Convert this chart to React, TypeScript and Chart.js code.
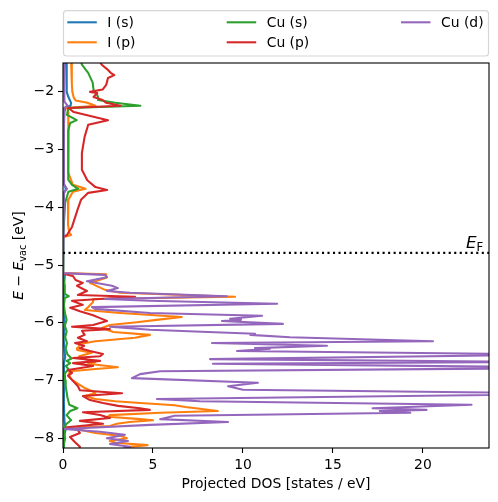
import React, { useEffect, useRef } from "react";
import { Chart, registerables } from "chart.js";

Chart.register(...registerables);

// Each series: [energy E - E_vac (eV), projected DOS (states / eV)]
const seriesLabels = ["I (s)", "I (p)", "Cu (s)", "Cu (p)", "Cu (d)"];
const seriesColors = ["#1f77b4", "#ff7f0e", "#2ca02c", "#d62728", "#9467bd"];

const iS: [number, number][] = [
  [-1.45, 0.17], [-1.62, 0.2], [-1.85, 0.2], [-2.0, 0.22], [-2.09, 0.3], [-2.19, 0.45], [-2.24, 0.42],
  [-2.28, 0.12], [-2.35, 0.08], [-2.6, 0.05], [-3.1, 0.04], [-3.6, 0.06], [-3.68, 0.16], [-3.75, 0.06],
  [-4.1, 0.03], [-4.5, 0.01], [-4.53, 0], [-5.14, 0], [-5.17, 0.1], [-5.4, 0.05], [-5.7, 0.04],
  [-6.0, 0.08], [-6.3, 0.04], [-6.6, 0.12], [-6.7, 0.05], [-7.0, 0.06], [-7.4, 0.05], [-7.7, 0.08],
  [-7.85, 0.14], [-8.0, 0.05], [-8.25, 0.04],
];

const iP: [number, number][] = [
  [-1.45, 0.45], [-1.62, 0.48], [-1.85, 0.5], [-2.0, 0.52], [-2.1, 0.6], [-2.15, 0.7], [-2.19, 1.35],
  [-2.24, 1.8], [-2.28, 0.22], [-2.35, 0.3], [-2.6, 0.3], [-3.0, 0.28], [-3.4, 0.3], [-3.61, 0.55],
  [-3.68, 1.25], [-3.73, 0.55], [-3.87, 0.3], [-4.3, 0.28], [-4.44, 0.35], [-4.48, 0.45], [-4.52, 0],
  [-5.14, 0], [-5.16, 2.4], [-5.22, 2.4], [-5.31, 1.5], [-5.43, 2.33], [-5.48, 3.17], [-5.55, 9.56],
  [-5.59, 1.67], [-5.64, 1.67], [-5.73, 1.39], [-5.78, 1.22], [-5.83, 3.17], [-5.9, 6.6], [-5.95, 5.2],
  [-5.99, 4.1], [-6.04, 2.6], [-6.09, 2.17], [-6.16, 2.8], [-6.21, 4.83], [-6.26, 4.0], [-6.32, 1.8],
  [-6.37, 0.94], [-6.44, 0.83], [-6.47, 0.78], [-6.52, 1.6], [-6.58, 0.9], [-6.63, 1.2], [-6.68, 1.8],
  [-6.71, 1.4], [-6.77, 3.05], [-6.8, 1.8], [-6.84, 0.4], [-6.9, 0.3], [-6.99, 0.5], [-7.08, 0.95],
  [-7.13, 1.2], [-7.18, 1.6], [-7.22, 1.8], [-7.27, 1.2], [-7.32, 1.8], [-7.36, 2.9], [-7.39, 4.3],
  [-7.43, 6.2], [-7.46, 6.8], [-7.49, 7.6], [-7.53, 8.6], [-7.56, 5.4], [-7.6, 2.6], [-7.63, 2.5],
  [-7.67, 4.3], [-7.69, 5.0], [-7.72, 3.7], [-7.75, 3.0], [-7.79, 2.6], [-7.81, 0.95], [-7.82, 0.4],
  [-7.87, 1.2], [-7.91, 1.8], [-7.96, 3.2], [-8.0, 3.55], [-8.05, 2.6], [-8.08, 2.9], [-8.12, 4.7],
  [-8.15, 3.7], [-8.22, 3.2],
];

const cuS: [number, number][] = [
  [-1.45, 1.0], [-1.53, 1.05], [-1.67, 1.4], [-1.84, 1.65], [-1.97, 1.7], [-2.02, 1.85], [-2.09, 1.95],
  [-2.14, 1.95], [-2.19, 2.9], [-2.24, 4.3], [-2.28, 0.3], [-2.4, 0.22], [-2.49, 0.76], [-2.54, 0.4],
  [-2.66, 0.3], [-3.2, 0.28], [-3.52, 0.3], [-3.61, 0.5], [-3.68, 0.85], [-3.73, 0.3], [-3.92, 0.12],
  [-4.44, 0.02], [-4.5, 0], [-5.14, 0], [-5.2, 0.05], [-5.35, 0.08], [-5.5, 0.1], [-5.54, 0.32],
  [-5.57, 0.1], [-5.7, 0.05], [-5.85, 0.12], [-5.95, 0.2], [-6.05, 0.1], [-6.15, 0.2], [-6.25, 0.12],
  [-6.35, 0.22], [-6.45, 0.15], [-6.55, 0.25], [-6.62, 0.48], [-6.66, 0.2], [-6.7, 0.4], [-6.75, 0.15],
  [-6.8, 0.3], [-6.88, 0.1], [-7.0, 0.12], [-7.1, 0.15], [-7.2, 0.2], [-7.3, 0.25], [-7.42, 0.35],
  [-7.48, 0.8], [-7.53, 0.4], [-7.6, 0.2], [-7.69, 0.45], [-7.75, 0.2], [-7.8, 0.1], [-7.9, 0.05],
  [-8.0, 0.12], [-8.1, 0.05], [-8.25, 0.05],
];

const cuP: [number, number][] = [
  [-1.45, 2.0], [-1.53, 2.15], [-1.62, 2.5], [-1.67, 2.65], [-1.71, 2.85], [-1.76, 2.5], [-1.88, 2.4],
  [-1.96, 2.2], [-2.0, 1.5], [-2.02, 1.9], [-2.09, 1.7], [-2.14, 2.2], [-2.19, 2.4], [-2.24, 3.2],
  [-2.28, 0.3], [-2.35, 0.6], [-2.49, 2.5], [-2.57, 1.4], [-2.78, 1.2], [-3.06, 1.05], [-3.35, 1.05],
  [-3.53, 1.35], [-3.65, 1.8], [-3.7, 2.45], [-3.75, 1.4], [-3.87, 1.0], [-4.05, 0.8], [-4.34, 0.5],
  [-4.48, 0.22], [-4.52, 0], [-5.15, 0], [-5.19, 0.55], [-5.26, 0.7], [-5.31, 1.1], [-5.36, 0.78],
  [-5.45, 1.33], [-5.52, 0.83], [-5.55, 4.0], [-5.59, 2.06], [-5.62, 0.5], [-5.69, 1.1], [-5.74, 0.4],
  [-5.8, 0.94], [-5.87, 1.67], [-5.92, 2.06], [-5.97, 2.44], [-6.04, 1.67], [-6.07, 0.5], [-6.11, 2.6],
  [-6.14, 1.06], [-6.21, 1.2], [-6.26, 0.83], [-6.32, 1.33], [-6.35, 0.67], [-6.4, 1.17], [-6.44, 0.94],
  [-6.49, 1.5], [-6.54, 2.22], [-6.58, 2.06], [-6.61, 0.56], [-6.66, 2.06], [-6.7, 0.56], [-6.75, 1.67],
  [-6.82, 0.28], [-6.87, 0.5], [-6.92, 0.28], [-6.99, 0.5], [-7.1, 0.83], [-7.17, 0.94], [-7.22, 3.28],
  [-7.27, 1.11], [-7.34, 1.5], [-7.39, 2.22], [-7.44, 3.06], [-7.48, 4.28], [-7.51, 4.83], [-7.55, 1.11],
  [-7.6, 2.06], [-7.65, 2.61], [-7.7, 0.94], [-7.75, 2.22], [-7.81, 0.22], [-7.86, 0.83], [-7.91, 0.94],
  [-7.98, 0.39], [-8.07, 0.67], [-8.15, 0.94], [-8.24, 0.83],
];

const cuD: [number, number][] = [
  [-1.45, 0.05], [-2.17, 0.08], [-2.24, 0.25], [-2.28, 0.05], [-3.6, 0.05], [-3.68, 0.22], [-3.75, 0.05],
  [-4.5, 0.02], [-4.52, 0], [-5.14, 0], [-5.17, 2.33], [-5.21, 2.44], [-5.28, 1.33], [-5.36, 2.72],
  [-5.4, 3.05], [-5.45, 2.44], [-5.48, 3.72], [-5.54, 9.1], [-5.59, 2.33], [-5.62, 4.8], [-5.67, 11.9],
  [-5.73, 1.61], [-5.76, 1.78], [-5.83, 4.83], [-5.88, 11.06], [-5.93, 9.28], [-5.95, 9.89], [-5.97, 8.83],
  [-6.02, 12.22], [-6.07, 2.61], [-6.12, 4.83], [-6.16, 8.06], [-6.19, 10.67], [-6.21, 10.4],
  [-6.25, 12.61], [-6.32, 20.56], [-6.35, 8.28], [-6.4, 14.67], [-6.44, 10.67], [-6.45, 11.5],
  [-6.49, 9.67], [-6.55, 28.0], [-6.63, 8.17], [-6.68, 27.0], [-6.71, 8.33], [-6.78, 30.0], [-6.84, 5.4],
  [-6.89, 4.28], [-6.96, 3.83], [-7.04, 10.83], [-7.1, 9.17], [-7.16, 10.0], [-7.23, 30.0], [-7.32, 5.22],
  [-7.36, 7.6], [-7.42, 22.7], [-7.48, 17.2], [-7.51, 20.2], [-7.53, 17.6], [-7.56, 19.3], [-7.61, 6.2],
  [-7.67, 5.4], [-7.72, 9.17], [-7.77, 4.83], [-7.84, 0.05], [-7.89, 2.06], [-7.94, 3.44], [-8.0, 2.44],
  [-8.05, 3.61], [-8.1, 2.61], [-8.15, 3.72], [-8.22, 2.9],
];

const seriesData = [iS, iP, cuS, cuP, cuD];

const fermiLevel = -4.79;
const fermiLabelX = 23.35;
const xTicks = [0, 5, 10, 15, 20];
const yTicks = [-8, -7, -6, -5, -4, -3, -2];
const xMin = 0;
const xMax = 23.67;
const yMin = -8.17;
const yMax = -1.5;

const FONT = "'DejaVu Sans', 'Liberation Sans', sans-serif";
const FS = 13.9;

const fmt = (v: number) => String(v).replace("-", "\u2212");

const overlayPlugin = {
  id: "overlay",
  afterDraw(chart: any) {
    const { ctx, chartArea: a, scales } = chart;
    ctx.save();
    // spines
    ctx.strokeStyle = "#000";
    ctx.lineWidth = 1.1;
    ctx.strokeRect(a.left, a.top, a.right - a.left, a.bottom - a.top);

    ctx.fillStyle = "#000";
    // x title
    ctx.font = `${FS}px ${FONT}`;
    ctx.textAlign = "center";
    ctx.textBaseline = "alphabetic";
    ctx.fillText("Projected DOS [states / eV]", (a.left + a.right) / 2, 488);

    // y title (rotated), mathtext-like
    const pieces = [
      { t: "E", f: `italic ${FS}px ${FONT}`, dy: 0 },
      { t: " \u2212 ", f: `${FS}px ${FONT}`, dy: 0 },
      { t: "E", f: `italic ${FS}px ${FONT}`, dy: 0 },
      { t: "vac", f: `${FS * 0.7}px ${FONT}`, dy: 3 },
      { t: " [eV]", f: `${FS}px ${FONT}`, dy: 0 },
    ];
    let total = 0;
    for (const p of pieces) {
      ctx.font = p.f;
      total += ctx.measureText(p.t).width;
    }
    ctx.translate(23, (a.top + a.bottom) / 2);
    ctx.rotate(-Math.PI / 2);
    ctx.textAlign = "left";
    let px = -total / 2;
    for (const p of pieces) {
      ctx.font = p.f;
      ctx.fillText(p.t, px, p.dy);
      px += ctx.measureText(p.t).width;
    }
    ctx.setTransform(1, 0, 0, 1, 0, 0);

    // E_F label
    const fx = scales.x.getPixelForValue(fermiLabelX);
    const fy = scales.y.getPixelForValue(fermiLevel) - 5;
    const eFont = `italic 16.7px ${FONT}`;
    const sFont = `11.7px ${FONT}`;
    ctx.font = sFont;
    const wF = ctx.measureText("F").width;
    ctx.font = eFont;
    const wE = ctx.measureText("E").width;
    ctx.textAlign = "left";
    ctx.fillText("E", fx - wF - wE, fy);
    ctx.font = sFont;
    ctx.fillText("F", fx - wF, fy + 3);

    // legend
    const L = { left: a.left + 0.5, right: a.right - 0.5, top: 10.7, bottom: 56 };
    const r = 3;
    ctx.beginPath();
    ctx.moveTo(L.left + r, L.top);
    ctx.lineTo(L.right - r, L.top);
    ctx.quadraticCurveTo(L.right, L.top, L.right, L.top + r);
    ctx.lineTo(L.right, L.bottom - r);
    ctx.quadraticCurveTo(L.right, L.bottom, L.right - r, L.bottom);
    ctx.lineTo(L.left + r, L.bottom);
    ctx.quadraticCurveTo(L.left, L.bottom, L.left, L.bottom - r);
    ctx.lineTo(L.left, L.top + r);
    ctx.quadraticCurveTo(L.left, L.top, L.left + r, L.top);
    ctx.closePath();
    ctx.fillStyle = "rgba(255,255,255,0.8)";
    ctx.fill();
    ctx.strokeStyle = "#d6d6d6";
    ctx.lineWidth = 1.2;
    ctx.stroke();

    const colX = [67.3, 226.7, 401];
    const rowY = [22.3, 42.3];
    ctx.font = `${FS}px ${FONT}`;
    ctx.textBaseline = "middle";
    ctx.textAlign = "left";
    seriesLabels.forEach((lab, i) => {
      const c = Math.floor(i / 2);
      const rr = i % 2;
      const x0 = colX[c];
      const y0 = rowY[rr];
      ctx.strokeStyle = seriesColors[i];
      ctx.lineWidth = 2.08;
      ctx.beginPath();
      ctx.moveTo(x0, y0);
      ctx.lineTo(x0 + 29.5, y0);
      ctx.stroke();
      ctx.fillStyle = "#000";
      ctx.fillText(lab, x0 + 40, y0 + 1);
    });
    ctx.restore();
  },
};

export default function App() {
  const ref = useRef<HTMLCanvasElement | null>(null);
  useEffect(() => {
    if (!ref.current) return;
    const datasets: any[] = seriesData.map((pts, i) => ({
      label: seriesLabels[i],
      data: pts.map(([e, d]) => ({ x: d, y: e })),
      borderColor: seriesColors[i],
      backgroundColor: seriesColors[i],
      borderWidth: 2.08,
      borderJoinStyle: "round",
      borderCapStyle: "round",
      pointRadius: 0,
      showLine: true,
      fill: false,
      tension: 0,
      clip: 0,
      order: 4 - i,
    }));
    datasets.push({
      label: "EF",
      data: [
        { x: xMin, y: fermiLevel },
        { x: xMax, y: fermiLevel },
      ],
      borderColor: "#000",
      borderWidth: 2.08,
      borderDash: [2.08, 3.43],
      pointRadius: 0,
      showLine: true,
      fill: false,
      clip: 0,
      order: -1,
    });
    const chart = new Chart(ref.current, {
      type: "scatter",
      data: { datasets },
      options: {
        animation: false,
        responsive: false,
        devicePixelRatio: 1,
        layout: { padding: { top: 63, right: 9, left: 0, bottom: 0 } },
        plugins: { legend: { display: false }, tooltip: { enabled: false } },
        scales: {
          x: {
            type: "linear",
            position: "bottom",
            min: xMin,
            max: xMax,
            afterFit: (s: any) => {
              s.height = 54;
            },
            afterBuildTicks: (s: any) => {
              s.ticks = xTicks.map((v) => ({ value: v }));
            },
            grid: { drawOnChartArea: false, drawTicks: true, tickLength: 5, tickWidth: 1.1, tickColor: "#000" },
            border: { display: false },
            ticks: {
              color: "#000",
              font: { family: FONT, size: FS },
              padding: 4,
              maxRotation: 0,
              callback: (v: any) => fmt(Number(v)),
            },
          },
          y: {
            type: "linear",
            min: yMin,
            max: yMax,
            afterFit: (s: any) => {
              s.width = 63;
            },
            afterBuildTicks: (s: any) => {
              s.ticks = yTicks.map((v) => ({ value: v }));
            },
            grid: { drawOnChartArea: false, drawTicks: true, tickLength: 5, tickWidth: 1.1, tickColor: "#000" },
            border: { display: false },
            ticks: {
              color: "#000",
              font: { family: FONT, size: FS },
              padding: 4,
              callback: (v: any) => fmt(Number(v)),
            },
          },
        },
      },
      plugins: [overlayPlugin],
    });
    return () => chart.destroy();
  }, []);
  return (
    <div style={{ position: "fixed", left: 0, top: 0, width: 498, height: 502, background: "#fff" }}>
      <canvas ref={ref} width={498} height={502} style={{ width: 498, height: 502, display: "block" }} />
    </div>
  );
}
